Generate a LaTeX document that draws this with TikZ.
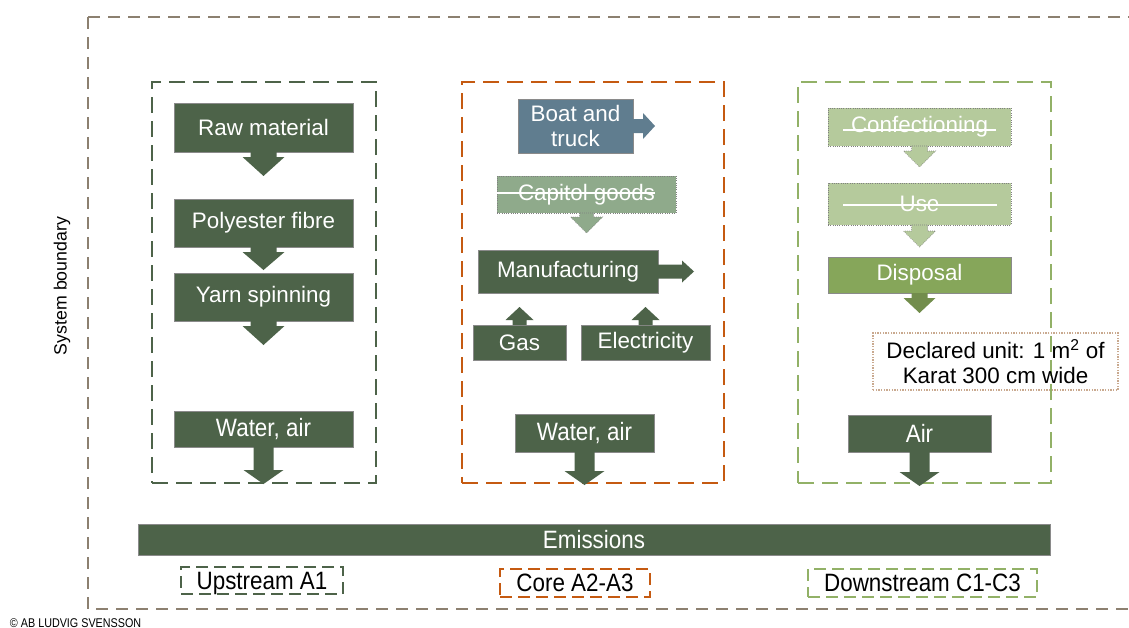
\documentclass[tikz,border=0pt]{standalone}
\usepackage{fontspec}
\usepackage{graphicx}
\setmainfont{Liberation Sans}
\usetikzlibrary{calc}
\definecolor{dkgreen}{HTML}{4D6349}
\definecolor{slate}{HTML}{607D8F}
\definecolor{mutedgreen}{HTML}{8FAA8B}
\definecolor{palegreen}{HTML}{B5CA9C}
\definecolor{dispgreen}{HTML}{86A65A}
\definecolor{orangeline}{HTML}{C55A11}
\definecolor{limeline}{HTML}{92B167}
\definecolor{outerline}{HTML}{8C8070}
\definecolor{tanline}{HTML}{C9A98F}
\definecolor{boxedge}{HTML}{8A8A8A}
\newcommand\arrdown[6]{\filldraw[#6] (#1) ++(-#2,0) -- ++(0,#3) -- ++(#2-#4,0) -- ++(#4,#5) -- ++(#4,-#5) -- ++(#2-#4,0) -- ++(0,-#3) -- cycle;}
\newcommand\arrright[6]{\filldraw[#6] (#1) ++(0,-#2) -- ++(#3,0) -- ++(0,#2-#4) -- ++(#5,#4) -- ++(-#5,#4) -- ++(0,#2-#4) -- ++(-#3,0) -- cycle;}
\newcommand\tall[1]{\scalebox{1}[1.12]{#1}}
\begin{document}
\begin{tikzpicture}[x=0.75pt,y=-0.75pt,
  every node/.style={font=\fontsize{16.8}{19}\selectfont, inner sep=0pt, outer sep=0pt},
  pos/.style n args={4}{minimum width={(#3-#1)*0.75pt}, minimum height={(#4-#2)*0.75pt}, at={({(#1+#3)/2},{(#2+#4)/2})}},
  gbox/.style={fill=dkgreen, draw=boxedge, line width=0.5pt, text=white},
  sbox/.style={fill=slate, draw=boxedge, line width=0.5pt, text=white, align=center},
  xbox/.style={fill=#1, draw=gray, densely dotted, line width=0.7pt, text=white},
  dbox/.style={fill=dispgreen, draw=boxedge, line width=0.5pt, text=white},
  group/.style={draw=#1, dash pattern=on 12pt off 6pt, line width=1.6pt},
  lab/.style={draw=#1, dash pattern=on 9pt off 4.5pt, line width=1.6pt, text height=13pt, text depth=0pt},
  afill/.style={fill=dkgreen, draw=none},
  strike/.style={white, line width=1.1pt}]
\useasboundingbox (0,0) rectangle (1129,628);
% outer boundary
\draw[outerline, dash pattern=on 9pt off 6pt, line width=1.9pt] (88,17) -- (1140,17) (88,17) -- (88,609) -- (1140,609);
\node[rotate=90, font=\fontsize{13.3}{15}\selectfont] (sys) at (62,286) {System boundary};
% group boxes
\node[group=dkgreen, pos={152}{82}{376}{483}] (up) {};
\node[group=orangeline, pos={462}{82}{724}{483}] (core) {};
\node[group=limeline, pos={798}{82}{1051}{483}] (down) {};
% upstream
\node[gbox, pos={174}{103}{353}{152}] (raw) {Raw material};
\node[gbox, pos={174}{199}{353}{247}] (poly) {Polyester fibre};
\node[gbox, pos={174}{273}{353}{321}] (yarn) {Yarn spinning};
\node[gbox, pos={174}{411}{353}{447}] (wa1) {\tall{Water, air}};
\arrdown{raw.south}{13}{5}{21}{19}{afill}
\arrdown{poly.south}{13}{5}{21}{18}{afill}
\arrdown{yarn.south}{13}{5}{21}{19}{afill}
\arrdown{wa1.south}{10}{23}{20}{14}{afill}
% core
\node[sbox, pos={518}{99}{633}{153}] (boat) {Boat and\\truck};
\arrright{boat.east}{7}{10}{13}{12}{fill=slate, draw=none}
\node[xbox=mutedgreen, pos={497}{176}{676}{213}] (cap) {Capitol goods};
\draw[strike] (497,193) -- (655,193);
\arrdown{cap.south}{7}{4}{16}{16}{fill=mutedgreen, draw=gray, densely dotted, line width=0.5pt}
\node[gbox, pos={478}{250}{658}{293}] (manu) {Manufacturing};
\arrright{manu.east}{7}{24}{11}{12}{afill}
\node[gbox, pos={473}{325}{566}{360}] (gas) {Gas};
\node[gbox, pos={581}{325}{710}{360}] (elec) {Electricity};
\arrdown{gas.north}{7}{-5}{14}{-13}{afill}
\arrdown{elec.north}{7}{-5}{14}{-13}{afill}
\node[gbox, pos={515}{414}{654}{452}] (wa2) {\tall{Water, air}};
\arrdown{wa2.south}{10}{19}{20}{14}{afill}
% downstream
\node[xbox=palegreen, pos={828}{108}{1011}{146}] (conf) {Confectioning};
\draw[strike] (843,130) -- (996,130);
\arrdown{conf.south}{8}{5}{16}{16}{fill=palegreen, draw=gray, densely dotted, line width=0.5pt}
\node[xbox=palegreen, pos={828}{183}{1011}{225}] (use) {Use};
\draw[strike] (843,205) -- (997,205);
\arrdown{use.south}{8}{6}{16}{16}{fill=palegreen, draw=gray, densely dotted, line width=0.5pt}
\node[dbox, pos={828}{257}{1011}{293}] (disp) {Disposal};
\arrdown{disp.south}{8}{5}{16}{15}{fill=dispgreen!85!black, draw=none}
\node[draw=tanline, densely dotted, line width=1pt, align=center, pos={873}{333}{1118}{390}] (unit) {Declared unit: 1 m\textsuperscript{2} of\\Karat 300 cm wide};
\node[gbox, pos={848}{415}{991}{452}] (air) {\tall{Air}};
\arrdown{air.south}{10}{20}{20}{14}{afill}
% emissions
\node[gbox, pos={138}{524}{1050}{555}] (emis) {\tall{Emissions}};
% labels
\node[lab=dkgreen, pos={181}{567}{343}{594}] (lup) {\tall{Upstream A1}};
\node[lab=orangeline, pos={500}{569}{650}{597}] (lcore) {\tall{Core A2-A3}};
\node[lab=limeline, pos={808}{569}{1037}{597}] (ldown) {\tall{Downstream C1-C3}};
\node[anchor=base west, font=\fontsize{9.5}{11}\selectfont] (copy) at (10,627) {\scalebox{0.85}[1]{© AB LUDVIG SVENSSON}};
\end{tikzpicture}
\end{document}
